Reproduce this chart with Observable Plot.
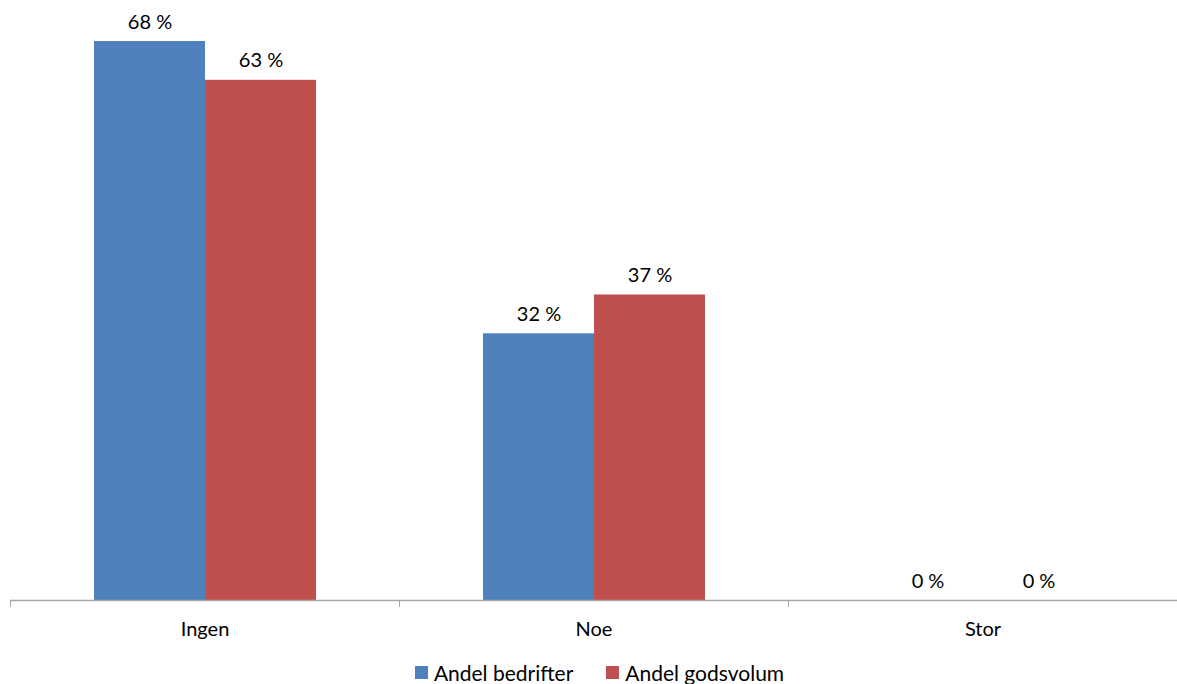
<!DOCTYPE html>
<html>
<head>
<meta charset="utf-8">
<script src="https://cdn.jsdelivr.net/npm/d3@7"></script>
<script src="https://cdn.jsdelivr.net/npm/@observablehq/plot@0.6"></script>
<style>
  html, body { margin: 0; padding: 0; background: #fff; }
  #chart svg { display: block; }
  .legend { display: flex; justify-content: center; align-items: center; font-family: Lato, sans-serif; font-size: 21px; line-height: 1.2; color: #000; padding-left: 22px; margin-top: 10px; }
  .legend .item { display: flex; align-items: center; margin: 0 16.5px; }
  .legend .sw { width: 13px; height: 13px; margin-right: 6px; }
</style>
</head>
<body>
<div id="chart"></div>
<script>
const categories = ["Ingen", "Noe", "Stor"];
const series = ["Andel bedrifter", "Andel godsvolum"];
const bedrifter = [67.7, 32.3, 0];
const godsvolum = [63.0, 37.0, 0];
const colors = ["#4F81BD", "#C0504D"];

const data = categories.flatMap((c, i) => [
  {category: c, series: series[0], value: bedrifter[i]},
  {category: c, series: series[1], value: godsvolum[i]}
]);

const W = 1177, ML = 10, MR = 0;
const step = (W - ML - MR) / categories.length;

const chart = Plot.plot({
  width: W,
  height: 650,
  marginLeft: ML,
  marginRight: MR,
  marginTop: 41,
  marginBottom: 50,
  style: {fontFamily: "Lato, sans-serif", background: "#fff"},
  fx: {domain: categories, padding: 0, paddingInner: 0, paddingOuter: 0, label: null},
  x: {domain: series, paddingInner: 0, paddingOuter: 0.74, axis: null},
  y: {domain: [0, d3.max([...bedrifter, ...godsvolum])], axis: null},
  color: {domain: series, range: colors},
  marks: [
    Plot.barY(data, {fx: "category", x: "series", y: "value", fill: "series"}),
    Plot.text(data, {fx: "category", x: "series", y: "value", text: d => Math.round(d.value) + "\u00a0%", dy: -13, lineAnchor: "bottom", fontSize: 20, fill: "#000"}),
    Plot.ruleY([0], {stroke: "#a6a6a6", strokeWidth: 1.3}),
    Plot.axisFx({anchor: "bottom", tickSize: 0, tickPadding: 21, fontSize: 20, label: null, fill: "#000"}),
    Plot.axisFx({anchor: "bottom", tickSize: 7, tickFormat: () => "", label: null, stroke: "#a6a6a6", dx: -step / 2})
  ]
});
document.getElementById("chart").appendChild(chart);

const legend = document.createElement("div");
legend.className = "legend";
series.forEach((s, i) => {
  const item = document.createElement("div");
  item.className = "item";
  const sw = document.createElement("span");
  sw.className = "sw";
  sw.style.background = colors[i];
  const t = document.createElement("span");
  t.textContent = s;
  item.appendChild(sw);
  item.appendChild(t);
  legend.appendChild(item);
});
document.body.appendChild(legend);
</script>
</body>
</html>
